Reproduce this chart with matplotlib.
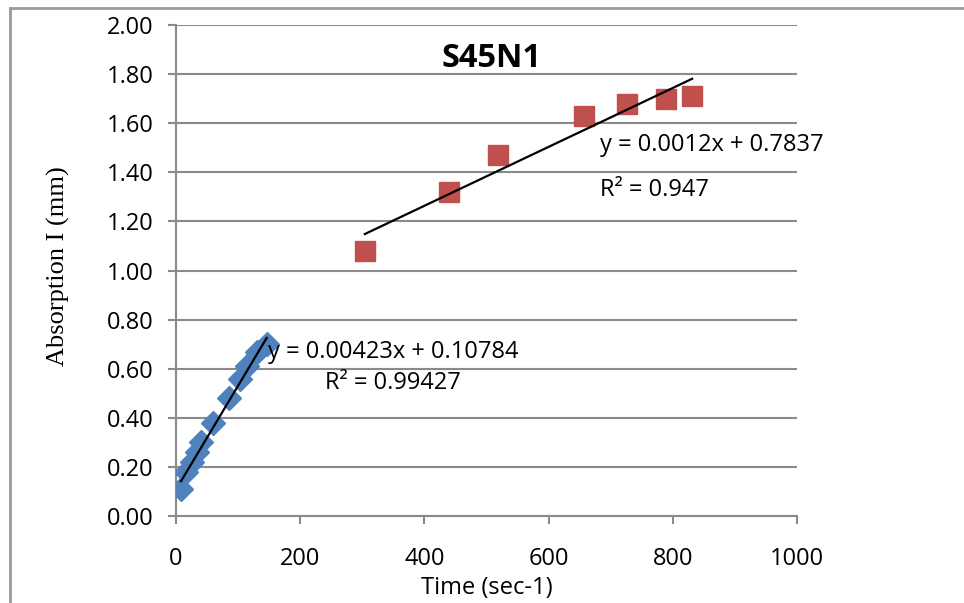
import matplotlib
matplotlib.use("Agg")
import matplotlib.pyplot as plt
from matplotlib.lines import Line2D
import numpy as np

# Early-stage absorption readings
blue_time = [8, 16, 25, 33, 41, 60, 86, 103, 115, 130, 146]
blue_abs = [0.11, 0.18, 0.22, 0.26, 0.30, 0.38, 0.48, 0.56, 0.61, 0.67, 0.70]

# Late-stage absorption readings
red_time = [304, 440, 518, 657, 727, 789, 831]
red_abs = [1.08, 1.32, 1.47, 1.63, 1.68, 1.70, 1.71]

# Linear trend lines (slope, intercept, R^2)
blue_fit = (0.00423, 0.10784, 0.99427)
red_fit = (0.0012, 0.7837, 0.947)

x_ticks = [0, 200, 400, 600, 800, 1000]
y_ticks = [0.0, 0.2, 0.4, 0.6, 0.8, 1.0, 1.2, 1.4, 1.6, 1.8, 2.0]

sans = "Open Sans"
grey = "#8a8a8a"
fs = 17

fig = plt.figure(figsize=(9.64, 6.03), dpi=100)
ax = fig.add_axes([0.1826, 0.1443, 0.8268 - 0.1826, 0.9585 - 0.1443])

ax.set_xlim(0, 1000)
ax.set_ylim(0, 2.0)
ax.set_xticks(x_ticks)
ax.set_yticks(y_ticks)
ax.set_xticklabels([str(t) for t in x_ticks], fontfamily=sans, fontsize=fs)
ax.set_yticklabels([f"{t:.2f}" for t in y_ticks], fontfamily=sans, fontsize=fs)
ax.tick_params(axis="both", direction="out", length=6, width=1.5, color=grey)
ax.tick_params(axis="y", pad=10)
ax.tick_params(axis="x", pad=16)

ax.grid(axis="y", color=grey, linewidth=1.5)
ax.set_axisbelow(True)
for side in ("top", "right"):
    ax.spines[side].set_visible(False)
for side in ("left", "bottom"):
    ax.spines[side].set_color(grey)
    ax.spines[side].set_linewidth(1.5)

ax.plot(blue_time, blue_abs, linestyle="none", marker="D", markersize=12,
        color="#4F81BD", zorder=3)
ax.plot(red_time, red_abs, linestyle="none", marker="s", markersize=14.5,
        color="#C0504D", zorder=3)

for xs, (m, b, _) in ((blue_time, blue_fit), (red_time, red_fit)):
    xx = np.array([min(xs), max(xs)])
    ax.plot(xx, m * xx + b, color="black", linewidth=1.6, zorder=4)

ax.text(148, 0.668, f"y = {blue_fit[0]:.5f}x + {blue_fit[1]:.5f}", fontfamily=sans,
        fontsize=fs, va="center", ha="left", zorder=5)
ax.text(240, 0.542, f"R² = {blue_fit[2]:.5f}", fontfamily=sans,
        fontsize=fs, va="center", ha="left", zorder=5)
ax.text(683, 1.511, f"y = {red_fit[0]}x + {red_fit[1]}", fontfamily=sans,
        fontsize=fs, va="center", ha="left", zorder=5)
ax.text(683, 1.328, f"R² = {red_fit[2]}", fontfamily=sans,
        fontsize=fs, va="center", ha="left", zorder=5)

ax.text(0.508, 0.932, "S45N1", transform=ax.transAxes, fontfamily=sans,
        fontsize=23.5, fontweight="bold", ha="center", va="center")

fig.text(487 / 964, 1 - 588 / 603, "Time (sec-1)", fontfamily=sans, fontsize=fs,
         ha="center", va="center")
fig.text(58.5 / 964, 1 - 266 / 603, "Absorption I (mm)",
         fontfamily="Liberation Serif", fontsize=19, rotation=90,
         ha="center", va="center")

# Outer chart border along the top and left edges
fig.add_artist(Line2D([0.0104, 1.0], [0.987, 0.987], transform=fig.transFigure,
                      color="#9a9a9a", linewidth=2))
fig.add_artist(Line2D([0.0104, 0.0104], [0.0, 0.987], transform=fig.transFigure,
                      color="#9a9a9a", linewidth=2))

fig.savefig("out.png", dpi=100)
